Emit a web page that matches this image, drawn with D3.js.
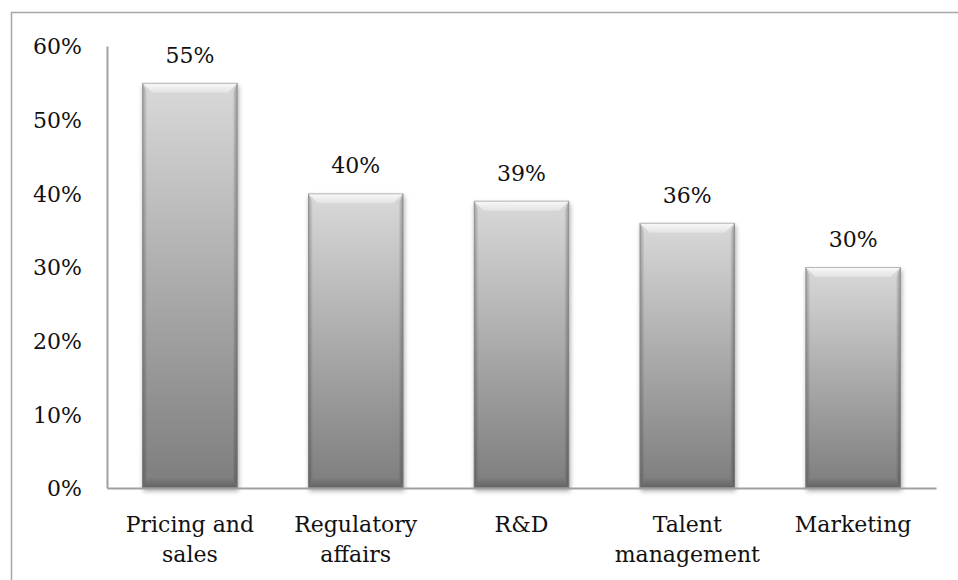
<!DOCTYPE html>
<html><head><meta charset="utf-8">
<script src="https://cdn.jsdelivr.net/npm/d3@7/dist/d3.min.js"></script>
<style>
html,body{margin:0;padding:0;background:#fff;}
svg{display:block;}
text{font-family:"DejaVu Serif",serif;font-size:22px;fill:#111;}
</style></head>
<body>
<svg id="chart" width="958" height="580"></svg>
<script>
const categories = [["Pricing and","sales"],["Regulatory","affairs"],["R&D"],["Talent","management"],["Marketing"]];
const values = [55, 40, 39, 36, 30];
const yTicks = [0, 10, 20, 30, 40, 50, 60];

const svg = d3.select("#chart");
const W = 958, H = 580;
const m = {left:107, right:22, top:46, bottom:92};
const x0 = m.left, x1 = W - m.right, y0 = H - m.bottom, y1 = m.top;

// outer frame
svg.append("rect").attr("x",11.5).attr("y",12.5).attr("width",W+20).attr("height",H+20)
  .attr("fill","none").attr("stroke","#a6a6a6").attr("stroke-width",1.5);

const x = d3.scaleBand().domain(d3.range(values.length)).range([x0, x1]).paddingInner(0.425).paddingOuter(0.2125);
const y = d3.scaleLinear().domain([0, 60]).range([y0, y1]);

const defs = svg.append("defs");
const g1 = defs.append("linearGradient").attr("id","barGrad").attr("x1",0).attr("y1",0).attr("x2",0).attr("y2",1);
g1.append("stop").attr("offset","0%").attr("stop-color","#d9d9d9");
g1.append("stop").attr("offset","100%").attr("stop-color","#7d7d7d");
const gTop = defs.append("linearGradient").attr("id","topGrad").attr("x1",0).attr("y1",0).attr("x2",0).attr("y2",1);
gTop.append("stop").attr("offset","0%").attr("stop-color","#fafafa");
gTop.append("stop").attr("offset","100%").attr("stop-color","#e2e2e2");
const gL = defs.append("linearGradient").attr("id","leftGrad").attr("x1",0).attr("y1",0).attr("x2",1).attr("y2",0);
gL.append("stop").attr("offset","0%").attr("stop-color","#000").attr("stop-opacity",0.28);
gL.append("stop").attr("offset","100%").attr("stop-color","#000").attr("stop-opacity",0);
const gR = defs.append("linearGradient").attr("id","rightGrad").attr("x1",1).attr("y1",0).attr("x2",0).attr("y2",0);
gR.append("stop").attr("offset","0%").attr("stop-color","#000").attr("stop-opacity",0.32);
gR.append("stop").attr("offset","100%").attr("stop-color","#000").attr("stop-opacity",0);
const gB = defs.append("linearGradient").attr("id","botGrad").attr("x1",0).attr("y1",1).attr("x2",0).attr("y2",0);
gB.append("stop").attr("offset","0%").attr("stop-color","#000").attr("stop-opacity",0.22);
gB.append("stop").attr("offset","100%").attr("stop-color","#000").attr("stop-opacity",0.02);
const f = defs.append("filter").attr("id","shadow").attr("x","-20%").attr("y","-10%").attr("width","140%").attr("height","120%");
f.append("feGaussianBlur").attr("in","SourceAlpha").attr("stdDeviation",2.5).attr("result","b");
f.append("feOffset").attr("in","b").attr("dx",1).attr("dy",3).attr("result","o");
f.append("feComponentTransfer").attr("in","o").attr("result","s").append("feFuncA").attr("type","linear").attr("slope",0.35);
const fm = f.append("feMerge"); fm.append("feMergeNode").attr("in","s"); fm.append("feMergeNode").attr("in","SourceGraphic");

// bars
const bars = svg.append("g").selectAll("g").data(values).join("g");
bars.each(function(v,i){
  const g = d3.select(this);
  const bx = x(i), bw = x.bandwidth(), by = y(v), bh = y(0) - y(v);
  const b = 10, s = 5;
  g.append("rect").attr("x",bx).attr("y",by).attr("width",bw).attr("height",bh)
    .attr("fill","url(#barGrad)").attr("filter","url(#shadow)");
  // left and right edges
  g.append("polygon").attr("points",[[bx,by],[bx+s,by+b],[bx+s,by+bh-b],[bx,by+bh]].join(" ")).attr("fill","url(#leftGrad)");
  g.append("polygon").attr("points",[[bx+bw,by],[bx+bw-s,by+b],[bx+bw-s,by+bh-b],[bx+bw,by+bh]].join(" ")).attr("fill","url(#rightGrad)");
  // bottom bevel
  g.append("polygon").attr("points",[[bx,by+bh],[bx+bw,by+bh],[bx+bw-s,by+bh-b],[bx+s,by+bh-b]].join(" ")).attr("fill","url(#botGrad)");
  // top bevel
  g.append("polygon").attr("points",[[bx,by],[bx+bw,by],[bx+bw-b,by+b],[bx+b,by+b]].join(" ")).attr("fill","url(#topGrad)");
  g.append("rect").attr("x",bx+0.5).attr("y",by+0.5).attr("width",bw-1).attr("height",bh-1)
    .attr("fill","none").attr("stroke","#8c8c8c").attr("stroke-opacity",0.6).attr("stroke-width",1);
  g.append("text").attr("x",bx+bw/2).attr("y",by-20).attr("text-anchor","middle").text(v+"%");
});

// axes
const yAxis = d3.axisLeft(y).tickValues(yTicks).tickSize(0).tickPadding(25).tickFormat(d=>d+"%");
const ya = svg.append("g").attr("transform",`translate(${x0},0)`).call(yAxis);
ya.select(".domain").attr("stroke","#a0a0a0").attr("stroke-width",2);
ya.selectAll("text").attr("font-family","DejaVu Serif").attr("font-size",22).attr("fill","#111").attr("dy","0.36em");

const xAxis = d3.axisBottom(x).tickSize(0).tickFormat("");
const xa = svg.append("g").attr("transform",`translate(0,${y0})`).call(xAxis);
xa.select(".domain").attr("stroke","#a0a0a0").attr("stroke-width",2);

const lab = svg.append("g").selectAll("text").data(categories).join("text")
  .attr("text-anchor","middle").attr("x",(d,i)=>x(i)+x.bandwidth()/2).attr("y",y0+44);
lab.selectAll("tspan").data(d=>d).join("tspan")
  .attr("x",function(){return this.parentNode.getAttribute("x");})
  .attr("dy",(d,j)=>j===0?0:30).text(d=>d);
</script>
</body></html>
